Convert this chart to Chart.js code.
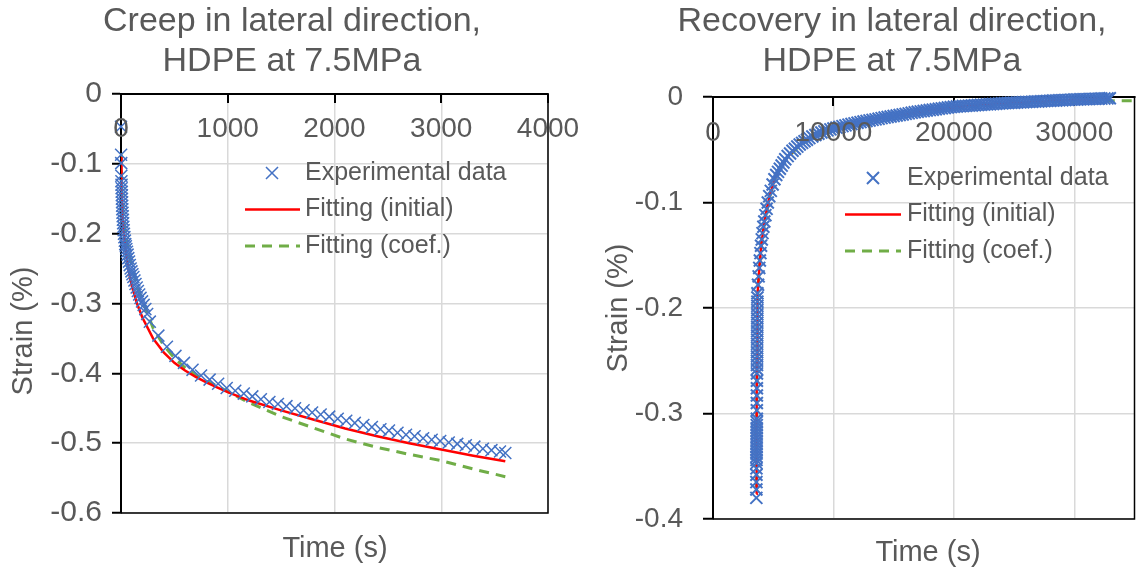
<!DOCTYPE html>
<html>
<head>
<meta charset="utf-8">
<script src="https://cdn.jsdelivr.net/npm/chart.js@4.4.1/dist/chart.umd.min.js"></script>
<style>
  html, body { margin: 0; padding: 0; background: #fff; }
  #wrap { position: relative; width: 1145px; height: 573px; }
  #creep { position: absolute; left: 0; top: 0; }
  #recovery { position: absolute; left: 580px; top: 0; }
</style>
</head>
<body>
<div id="wrap">
  <canvas id="creep" width="580" height="573" style="width:580px;height:573px"></canvas>
  <canvas id="recovery" width="565" height="573" style="width:565px;height:573px"></canvas>
</div>
<script>
const FONT = "'Liberation Sans', Arial, sans-serif";
const TEXT = '#595959';

const seriesNames = ['Experimental data', 'Fitting (initial)', 'Fitting (coef.)'];
const xTitle = 'Time (s)';
const yTitle = 'Strain (%)';
const creepTitle = ['Creep in lateral direction,', 'HDPE at 7.5MPa'];
const recTitle = ['Recovery in lateral direction,', 'HDPE at 7.5MPa'];

// creep, measured
const creepTime = [0, 1, 2, 3, 4, 5, 6, 7, 8, 9, 10, 11, 12, 14, 16, 18, 20, 22, 25, 28, 32, 36, 40, 45, 50,
  56, 62, 68, 75, 82, 90, 98, 107, 116, 126, 136, 147, 158, 170, 183, 197, 212, 228, 245,
  270, 350, 430, 510, 590, 670, 750, 830, 910, 990, 1070, 1150, 1230, 1310, 1390, 1470, 1550, 1630,
  1710, 1790, 1870, 1950, 2030, 2110, 2190, 2270, 2350, 2430, 2510, 2590, 2670, 2750, 2830, 2910,
  2990, 3070, 3150, 3230, 3310, 3390, 3470, 3550, 3600];
const creepStrain = [-0.047, -0.087, -0.099, -0.117, -0.125, -0.130, -0.135, -0.140, -0.145, -0.150, -0.155,
  -0.160, -0.165, -0.170, -0.175, -0.180, -0.185, -0.190, -0.195, -0.200, -0.205, -0.210, -0.215, -0.218, -0.222,
  -0.226, -0.230, -0.235, -0.240, -0.245, -0.250, -0.254, -0.258, -0.262, -0.267, -0.272, -0.277, -0.282, -0.287,
  -0.292, -0.297, -0.302, -0.308, -0.315,
  -0.326, -0.346, -0.362, -0.375, -0.385, -0.395, -0.403, -0.409, -0.415, -0.421, -0.425, -0.429, -0.433, -0.437,
  -0.441, -0.444, -0.447, -0.450, -0.453, -0.456, -0.459, -0.462, -0.465, -0.468, -0.471, -0.474, -0.477, -0.480,
  -0.482, -0.485, -0.488, -0.490, -0.493, -0.495, -0.497, -0.499, -0.501, -0.503, -0.505, -0.508, -0.510, -0.512, -0.514];

// creep, fitted
const creepFitTime = [0, 5, 10, 20, 40, 70, 100, 150, 200, 300, 400, 500, 600, 700, 800, 900, 1000,
  1200, 1500, 1800, 2100, 2400, 2700, 3000, 3300, 3600];
const creepFitInitial = [-0.090, -0.130, -0.158, -0.188, -0.220, -0.252, -0.274, -0.300, -0.320, -0.350, -0.370,
  -0.385, -0.396, -0.405, -0.413, -0.420, -0.427, -0.439, -0.453, -0.466, -0.479, -0.490, -0.500, -0.509, -0.518, -0.526];
const creepFitCoef = [-0.085, -0.125, -0.150, -0.175, -0.200, -0.225, -0.245, -0.275, -0.295, -0.335, -0.360,
  -0.378, -0.392, -0.402, -0.411, -0.418, -0.426, -0.442, -0.462, -0.478, -0.494, -0.506, -0.516, -0.525, -0.537, -0.548];

// recovery, measured
const recTime = [3600, 3602, 3604, 3606, 3608, 3610, 3612, 3614, 3616, 3618, 3620, 3622, 3624, 3626, 3628, 3630,
  3632, 3634, 3636, 3638, 3640, 3642, 3644, 3646, 3648, 3650, 3652, 3654, 3656, 3658, 3660, 3662, 3664, 3666,
  3668, 3670, 3672, 3674, 3676, 3678, 3680, 3682, 3684, 3686, 3688,
  3740, 3790, 3840, 3890, 3940, 3990, 4050, 4110, 4180, 4260,
  4350, 4450, 4550, 4670, 4800, 4950, 5100, 5250, 5400, 5550, 5700, 5850, 6000, 6200, 6400, 6600, 6800, 7000,
  7200, 7400, 7600, 7800, 8000, 8250, 8500, 8750, 9000, 9250, 9500, 9750, 10000, 10250, 10500, 10750, 11000,
  11250, 11500, 11750, 12000, 12250, 12500, 12750, 13000, 13250, 13500, 13750, 14000, 14250, 14500, 14750,
  15000, 15250, 15500, 15750, 16000, 16250, 16500, 16750, 17000, 17250, 17500, 17750, 18000, 18250, 18500,
  18750, 19000, 19250, 19500, 19750, 20000, 20250, 20500, 20750, 21000, 21250, 21500, 21750, 22000, 22250,
  22500, 22750, 23000, 23250, 23500, 23750, 24000, 24250, 24500, 24750, 25000, 25250, 25500, 25750, 26000,
  26250, 26500, 26750, 27000, 27250, 27500, 27750, 28000, 28250, 28500, 28750, 29000, 29250, 29500, 29750,
  30000, 30250, 30500, 30750, 31000, 31250, 31500, 31750, 32000, 32250, 32500, 32750, 32950];
const recStrain = [-0.380, -0.372, -0.365, -0.358, -0.352, -0.347, -0.344, -0.341, -0.338, -0.335, -0.332, -0.329,
  -0.326, -0.323, -0.320, -0.317, -0.314, -0.311, -0.308, -0.305, -0.297, -0.290, -0.283, -0.276, -0.269, -0.262,
  -0.258, -0.254, -0.250, -0.246, -0.242, -0.238, -0.234, -0.230, -0.226, -0.222, -0.218, -0.214, -0.210, -0.206,
  -0.202, -0.198, -0.194, -0.190, -0.186,
  -0.178, -0.170, -0.162, -0.155, -0.148, -0.141, -0.135, -0.129, -0.123, -0.118,
  -0.112, -0.106, -0.100, -0.094, -0.089, -0.083, -0.078, -0.074, -0.071, -0.068, -0.065, -0.062, -0.059, -0.056,
  -0.0535, -0.051, -0.049, -0.047, -0.045, -0.0435, -0.042, -0.0405, -0.039, -0.0375, -0.036, -0.0348, -0.0337,
  -0.0326, -0.0316, -0.0307, -0.0298, -0.029, -0.0283, -0.0276, -0.0269, -0.0262, -0.0256, -0.025, -0.0244,
  -0.0238, -0.0232, -0.0227, -0.0222, -0.0217, -0.0212, -0.0207, -0.0200, -0.0195, -0.019, -0.0185, -0.018,
  -0.0175, -0.017, -0.0165, -0.016, -0.0155, -0.015, -0.0145, -0.014, -0.0136, -0.0132, -0.0128, -0.0124, -0.012,
  -0.0116, -0.0112, -0.0108, -0.0104, -0.01, -0.0096, -0.0092, -0.009, -0.0088, -0.0086, -0.0084, -0.0082, -0.008,
  -0.0078, -0.0076, -0.0074, -0.0072, -0.007, -0.0068, -0.0066, -0.0064, -0.0062, -0.006, -0.0058, -0.0057,
  -0.0055, -0.0054, -0.0052, -0.0051, -0.0049, -0.0048, -0.0046, -0.0045, -0.0043, -0.0042, -0.004, -0.0039,
  -0.0037, -0.0036, -0.0034, -0.0033, -0.0031, -0.003, -0.0028, -0.0027, -0.0025, -0.0024, -0.0023, -0.0022,
  -0.0021, -0.002, -0.0019, -0.0018, -0.0017, -0.0016, -0.0015, -0.0014, -0.0013, -0.0012];

// recovery, fitted
const recFitTime = [3600, 3610, 3620, 3630, 3645, 3660, 3680, 3700, 3750, 3850, 4000, 4300, 4700, 5200, 6000,
  7000, 8000, 9000, 10000, 12000, 15000, 18000, 21000, 24000, 27000, 30000, 32950, 35000];
const recFitInitial = [-0.376, -0.350, -0.330, -0.310, -0.280, -0.250, -0.215, -0.190, -0.178, -0.162, -0.141,
  -0.116, -0.094, -0.075, -0.059, -0.047, -0.039, -0.034, -0.030, -0.024, -0.018, -0.0125, -0.0085, -0.006,
  -0.0042, -0.0025, -0.0015, null];
const recFitCoef = [-0.370, -0.345, -0.325, -0.305, -0.278, -0.250, -0.215, -0.190, -0.178, -0.162, -0.141,
  -0.117, -0.095, -0.076, -0.060, -0.048, -0.040, -0.035, -0.031, -0.025, -0.019, -0.0135, -0.0095, -0.007,
  -0.0052, -0.0042, -0.0037, -0.0035];

const creepXTicks = [0, 1000, 2000, 3000, 4000];
const creepYTicks = [-0.6, -0.5, -0.4, -0.3, -0.2, -0.1, 0];
const recXTicks = [0, 10000, 20000, 30000];
const recYTicks = [-0.4, -0.3, -0.2, -0.1, 0];

function pts(xs, ys) {
  return xs.map((x, i) => ({ x, y: ys[i] }));
}

// title, frame, inner x ticks, x tick labels, axis titles, legend
const decor = {
  id: 'decor',
  beforeDatasetsDraw(chart, args, o) {
    const { ctx, chartArea: a } = chart;
    const x = chart.scales.x;
    ctx.save();
    ctx.strokeStyle = '#000';
    ctx.lineWidth = 1.5;
    ctx.strokeRect(a.left, a.top, a.right - a.left, a.bottom - a.top);
    ctx.lineWidth = 2;
    x.ticks.forEach(t => {
      const px = Math.round(x.getPixelForValue(t.value));
      ctx.beginPath();
      ctx.moveTo(px, a.top);
      ctx.lineTo(px, a.top + 9);
      ctx.stroke();
    });
    ctx.restore();
  },
  afterDatasetsDraw(chart, args, o) {
    const { ctx, chartArea: a } = chart;
    const x = chart.scales.x;
    const ds = chart.data.datasets;
    ctx.save();
    ctx.fillStyle = TEXT;
    ctx.textBaseline = 'middle';
    ctx.textAlign = 'center';

    ctx.font = `34px ${FONT}`;
    o.title.forEach((line, i) => ctx.fillText(line, o.titleX, o.titleY + i * 40));

    ctx.font = `${o.tickSize}px ${FONT}`;
    x.ticks.forEach(t => ctx.fillText(String(t.value), x.getPixelForValue(t.value), a.top + o.tickOffset));

    ctx.font = `${o.axisSize}px ${FONT}`;
    ctx.fillText(xTitle, o.xTitlePos[0], o.xTitlePos[1]);
    ctx.save();
    ctx.translate(o.yTitlePos[0], o.yTitlePos[1]);
    ctx.rotate(-Math.PI / 2);
    ctx.fillText(yTitle, 0, 0);
    ctx.restore();

    const L = o.legend;
    ctx.font = `${o.legendSize}px ${FONT}`;
    ctx.textAlign = 'left';
    ds.forEach((d, i) => {
      const y = a.top + L.y + i * L.gap;
      ctx.strokeStyle = d.borderColor;
      ctx.lineWidth = d.borderWidth;
      if (i === 0) {
        Chart.helpers.drawPoint(ctx, { pointStyle: d.pointStyle, radius: d.pointRadius, borderWidth: d.borderWidth, rotation: 0 },
          a.left + L.marker, y);
      } else {
        ctx.setLineDash(d.borderDash || []);
        ctx.beginPath();
        ctx.moveTo(a.left + L.line0, y);
        ctx.lineTo(a.left + L.line1, y);
        ctx.stroke();
        ctx.setLineDash([]);
      }
      ctx.fillStyle = TEXT;
      ctx.fillText(d.label, a.left + L.text, y);
    });
    ctx.restore();
  }
};

function makeChart(id, c) {
  return new Chart(document.getElementById(id), {
    type: 'scatter',
    data: {
      datasets: [
        {
          label: seriesNames[0],
          data: pts(c.expX, c.expY),
          pointStyle: 'crossRot',
          pointRadius: 8.5,
          pointHoverRadius: 8.5,
          borderColor: '#4472c4',
          backgroundColor: '#4472c4',
          borderWidth: c.markerWidth,
          clip: false,
        },
        {
          label: seriesNames[1],
          data: pts(c.fitX, c.fitA),
          showLine: true,
          pointRadius: 0,
          borderColor: '#ff0000',
          borderWidth: 2.5,
        },
        {
          label: seriesNames[2],
          data: pts(c.fitX, c.fitB),
          showLine: true,
          pointRadius: 0,
          borderColor: '#70ad47',
          borderWidth: 3,
          borderDash: [10, 7],
        }
      ]
    },
    options: {
      responsive: false,
      animation: false,
      events: [],
      layout: { padding: { left: 0, right: c.padRight, top: c.padTop, bottom: c.padBottom } },
      plugins: {
        legend: { display: false },
        tooltip: { enabled: false },
        title: { display: false },
        decor: {
          title: c.title, titleX: c.titleX, titleY: 22,
          tickSize: 28, tickOffset: c.tickOffset, axisSize: 29, legendSize: 25,
          xTitlePos: c.xTitlePos, yTitlePos: c.yTitlePos, legend: c.legend,
        }
      },
      scales: {
        x: {
          type: 'linear',
          position: 'top',
          min: c.xMin, max: c.xMax,
          afterBuildTicks: s => { s.ticks = c.xTicks.map(v => ({ value: v })); },
          afterFit: s => { s.height = 0; },
          ticks: { display: false },
          grid: { color: '#d9d9d9', lineWidth: 1.5, drawTicks: false },
          border: { color: '#000', width: 2 },
        },
        y: {
          type: 'linear',
          min: c.yMin, max: c.yMax,
          afterBuildTicks: s => { s.ticks = c.yTicks.map(v => ({ value: v })); },
          afterFit: s => { s.width = c.yWidth; },
          ticks: {
            color: TEXT,
            font: { family: FONT, size: c.yTickSize },
            padding: c.yPad,
            callback: v => String(Math.round(v * 10) / 10),
          },
          grid: { color: '#d9d9d9', lineWidth: 1.5, tickColor: '#000', tickLength: c.tickLen, tickWidth: 2 },
          border: { color: '#000', width: 2 },
        }
      }
    },
    plugins: [decor]
  });
}

makeChart('creep', {
  title: creepTitle, titleX: 292,
  expX: creepTime, expY: creepStrain,
  fitX: creepFitTime, fitA: creepFitInitial, fitB: creepFitCoef,
  xMin: 0, xMax: 4000, yMin: -0.6, yMax: 0,
  xTicks: creepXTicks, yTicks: creepYTicks,
  padTop: 94, padRight: 32, padBottom: 60, yWidth: 121, markerWidth: 1.5,
  yTickSize: 30, yPad: 10, tickLen: 9, tickOffset: 35,
  xTitlePos: [335, 549], yTitlePos: [24, 331],
  legend: { marker: 151, y: 79, gap: 36.5, line0: 124, line1: 179, text: 184 },
});

makeChart('recovery', {
  title: recTitle, titleX: 312,
  expX: recTime, expY: recStrain,
  fitX: recFitTime, fitA: recFitInitial, fitB: recFitCoef,
  xMin: 0, xMax: 35000, yMin: -0.4, yMax: 0,
  xTicks: recXTicks, yTicks: recYTicks,
  padTop: 97, padRight: 4, padBottom: 54, yWidth: 133, markerWidth: 2,
  yTickSize: 28, yPad: 20, tickLen: 10, tickOffset: 36,
  xTitlePos: [348, 553], yTitlePos: [39, 308],
  legend: { marker: 160, y: 81, gap: 36.5, line0: 132, line1: 188, text: 194 },
});
</script>
</body>
</html>
